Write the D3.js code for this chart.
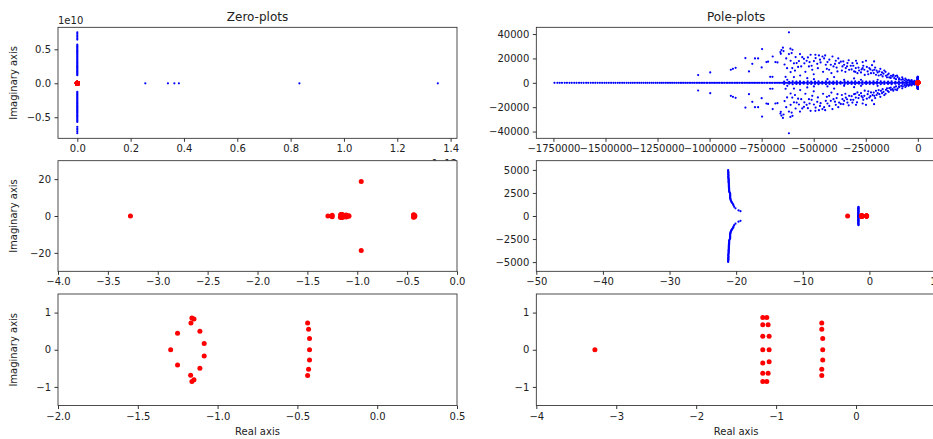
<!DOCTYPE html>
<html>
<head>
<meta charset="utf-8">
<script src="https://cdn.jsdelivr.net/npm/d3@7/dist/d3.min.js"></script>
<style>
  html, body { margin: 0; padding: 0; background: #fff; }
  svg { display: block; font-family: "DejaVu Sans", sans-serif; }
</style>
</head>
<body>
<script>
// ===================== DATA =====================
// Zeros (blue): imaginary parts (units of 1e10) of zeros lying on the real ~0 line
const zeroBlueImag1e10 = [
  0.750, 0.728, 0.706, 0.684, 0.662, 0.643, 0.568, 0.552, 0.537, 0.522, 0.506, 0.490,
  0.476, 0.461, 0.447, 0.431, 0.417, 0.401, 0.386, 0.371, 0.356, 0.342, 0.327, 0.311,
  0.297, 0.282, 0.266, 0.252, 0.237, 0.222, 0.207, 0.192, 0.178, 0.163, 0.148, 0.133, 0.119,
  -0.125, -0.140, -0.155, -0.170, -0.185, -0.199, -0.214, -0.229, -0.244, -0.259, -0.274,
  -0.289, -0.303, -0.318, -0.333, -0.348, -0.363, -0.378, -0.392, -0.407, -0.422, -0.437,
  -0.452, -0.467, -0.481, -0.496, -0.511, -0.526, -0.541, -0.556, -0.570, -0.640, -0.662,
  -0.684, -0.706, -0.735
];
// Zeros (blue) on the positive real axis (units of 1e12)
const zeroBlueReal1e12 = [0.255, 0.340, 0.364, 0.381, 0.833, 1.352];
// Other blue zeros [re, im]
const zeroBlueOther = [[-3.262, 0]];
// Zeros (red) [re, im]
const zeroRed = [
  [-3.274, 0], [-1.294, 0], [-1.251, 0.446], [-1.251, -0.411], [-1.167, 0.723],
  [-1.161, 0.857], [-1.148, 0.83], [-1.111, 0.5], [-1.084, 0.17], [-1.084, -0.17],
  [-1.111, -0.5], [-1.169, -0.688], [-1.161, -0.857], [-1.148, -0.804],
  [-0.436, 0.723], [-0.43, 0.554], [-0.424, 0.304], [-0.424, 0], [-0.424, -0.277],
  [-0.43, -0.527], [-0.436, -0.696], [-0.96, 18.65], [-0.96, -18.65]
];

// Poles (blue) on the negative real axis (units of 1e3)
const poleBlueRealK = [
  -1745, -1731, -1720, -1709, -1696, -1685, -1673, -1662, -1650, -1639, -1627, -1616,
  -1605, -1593, -1583, -1571, -1560, -1549, -1538, -1527, -1516, -1505, -1495, -1484,
  -1473, -1462, -1452, -1441, -1431, -1420, -1410, -1399, -1389, -1379, -1369, -1359,
  -1348, -1338, -1328, -1318, -1308, -1299, -1289, -1279, -1270, -1260, -1251, -1241,
  -1232, -1223, -1213, -1204, -1195, -1186, -1177, -1168, -1159, -1150, -1141, -1133,
  -1124, -1115, -1107, -1098, -1090, -1081, -1073, -1064, -1056, -1048,
  -1040, -1032, -1025, -1016, -1009, -1000, -993, -984, -977, -969, -960, -953, -944,
  -937, -929, -920, -913, -905, -897, -889, -880, -873, -865, -857, -848, -841, -833,
  -825, -816, -809, -801, -792, -785, -777, -768, -761, -752, -745, -737, -728, -721,
  -712, -705, -697, -688, -681, -672, -665, -657, -648, -641, -633, -625, -616, -609,
  -601, -592, -585, -576, -569, -561, -552, -545, -536, -529, -521, -512, -505, -496,
  -489, -481, -472, -465, -456, -449, -441, -432, -425, -416, -409, -401, -392, -385,
  -376, -369, -361, -352, -345, -336, -329, -321, -312, -305, -296, -289, -281, -272,
  -265, -256, -249, -241, -232, -225, -216, -209, -201, -192, -185, -176, -169, -161,
  -152, -145, -136, -129, -121, -112, -105, -96, -89, -81, -72, -65, -56, -49, -41,
  -32, -25, -16, -9, -3
];
// Poles (blue), complex, upper half plane [re, im] in units of 1e3 (plotted with conjugates)
const poleBlueCloudK = [
  [-1055, 6.3], [-997, 8.5], [-898, 10.7], [-888, 11.5], [-875, 12.3], [-828, 20.3],
  [-811, 9.3], [-795, 15.6], [-782, 20.0], [-767, 20.0], [-748, 27.7], [-750, 12.6],
  [-727, 17.0], [-719, 17.3], [-709, 4.9], [-698, 4.9], [-697, 21.6], [-684, 17.0],
  [-674, 16.7], [-660, 25.2], [-655, 26.9], [-648, 28.8], [-658, 23.8], [-635, 4.9],
  [-619, 23.6], [-611, 18.1], [-606, 24.4], [-602, 27.1], [-619, 41.4], [-611, 8.8],
  [-603, 12.1], [-587, 21.1], [-582, 16.2], [-571, 17.8], [-566, 23.6], [-560, 13.4],
  [-547, 19.7], [-534, 18.1], [-528, 20.8], [-523, 13.4], [-515, 23.0], [-507, 10.7],
  [-499, 17.8], [-491, 20.3], [-483, 15.6], [-475, 22.5], [-467, 16.7], [-458, 21.6],
  [-450, 20.0], [-442, 14.8], [-434, 17.0], [-426, 10.7], [-418, 14.8], [-410, 21.6],
  [-405, 13.4], [-394, 18.1], [-386, 9.3], [-378, 16.2], [-370, 17.3], [-362, 13.4],
  [-354, 14.8], [-346, 12.1], [-338, 16.2], [-330, 10.7], [-322, 14.0], [-314, 16.2],
  [-306, 9.3], [-298, 12.1], [-290, 7.9], [-282, 10.1], [-273, 8.5], [-265, 12.1],
  [-257, 10.7], [-249, 18.1], [-241, 9.3], [-233, 12.1], [-225, 7.9], [-217, 10.1],
  [-209, 10.7], [-201, 6.6], [-193, 8.5], [-185, 9.3], [-177, 6.6], [-169, 5.2],
  [-161, 10.1], [-153, 5.8], [-145, 6.6], [-137, 4.4], [-129, 5.8], [-121, 5.2],
  [-113, 3.8], [-105, 3.0], [-97, 4.7], [-89, 3.6], [-80, 2.5], [-72, 3.0], [-64, 1.9],
  [-56, 2.5], [-48, 1.6], [-40, 1.9], [-32, 1.4], [-24, 1.1],
  [-627, 2.5], [-595, 4.7], [-531, 3.8], [-499, 3.0], [-434, 3.0], [-402, 4.7],
  [-354, 2.5], [-306, 3.6], [-273, 2.5], [-193, 2.5],
  [-480, 12], [-470, 19], [-455, 9], [-445, 22.5], [-437, 11.5], [-425, 19], [-415, 8],
  [-398, 15.5], [-390, 12.5], [-382, 20], [-365, 10], [-358, 17.5], [-348, 9],
  [-340, 13.5], [-332, 18.5], [-318, 11], [-310, 14], [-300, 9], [-292, 16],
  [-285, 12.5], [-270, 11], [-262, 14], [-255, 6.5], [-245, 13], [-238, 7], [-228, 11],
  [-220, 14.5], [-212, 8], [-205, 12.5], [-198, 10], [-188, 6], [-180, 11.5],
  [-172, 8.5], [-165, 7.5], [-155, 9], [-148, 4.5], [-140, 7.5], [-130, 4], [-118, 6.5],
  [-108, 5.5], [-100, 6], [-90, 3], [-75, 4.5], [-60, 3.5], [-45, 2.5], [-30, 2.2],
  [-15, 1.5], [-640, 15], [-628, 12], [-612, 28], [-595, 16], [-590, 10], [-575, 13],
  [-565, 6], [-555, 21], [-545, 16], [-540, 9], [-520, 17], [-510, 14], [-500, 7],
  [-492, 23], [-632, 20], [-645, 26], [-297, 18.1], [-265, 17], [-210, 17.5],
  [-642, 1.0], [-618, 0.8], [-601, 1.2], [-583, 0.9], [-566, 1.1], [-548, 0.8],
  [-529, 1.2], [-512, 1.0], [-494, 0.9], [-477, 1.1], [-459, 0.8], [-441, 1.2],
  [-424, 1.0], [-406, 0.9], [-389, 1.1], [-371, 0.8], [-352, 1.2], [-336, 1.0],
  [-318, 0.9], [-301, 1.1], [-283, 0.8], [-266, 1.2], [-248, 1.0], [-231, 0.9],
  [-213, 1.1], [-196, 0.8], [-178, 1.2], [-161, 1.0], [-143, 0.9], [-126, 1.1],
  [-108, 0.8], [-91, 1.2], [-73, 1.0], [-56, 0.9], [-38, 1.1], [-21, 0.8]
];
// Poles (blue) near the origin, upper half plane [re, im] (plotted with conjugates)
const poleBlueNear = [
  [-21.2, 4980], [-21.2, 4900], [-21.2, 4820], [-21.15, 4740], [-21.2, 4660], [-21.15, 4580],
  [-21.2, 4500], [-21.15, 4420], [-21.15, 4340], [-21.2, 4260], [-21.15, 4180], [-21.15, 4100],
  [-21.15, 4020], [-21.1, 3940], [-21.15, 3860], [-21.1, 3780], [-21.15, 3700], [-21.1, 3620],
  [-21.1, 3540], [-21.1, 3460], [-21.1, 3380], [-21.1, 3300], [-21.1, 3220], [-21.05, 3140],
  [-21.1, 3060], [-21.05, 2980], [-21.05, 2900], [-21.05, 2820], [-21.05, 2740], [-21.05, 2660],
  [-21.0, 2580], [-20.95, 2500], [-20.9, 2420], [-20.9, 2340], [-20.9, 2260], [-20.9, 2180],
  [-20.9, 2100], [-20.9, 2020], [-20.9, 1940], [-20.85, 1860], [-20.85, 1780], [-20.8, 1700],
  [-20.75, 1620], [-20.7, 1540], [-20.65, 1460], [-20.55, 1370], [-20.45, 1270], [-20.4, 1160],
  [-20.3, 1000], [-20.1, 830], [-19.65, 620], [-19.35, 520],
  [-1.7, 60], [-1.6, 130], [-1.7, 210], [-1.6, 290], [-1.7, 370], [-1.6, 450], [-1.7, 530],
  [-1.6, 610], [-1.7, 690], [-1.6, 770], [-1.7, 850], [-1.6, 930], [-1.65, 1000]
];
// Poles (red) [re, im]
const poleRed = [
  [-3.267, 0], [-1.167, 0.866], [-1.117, 0.866], [-1.167, 0.67], [-1.1, 0.67],
  [-1.167, 0.366], [-1.0875, 0.366], [-1.167, 0], [-1.0875, 0], [-1.167, -0.357],
  [-1.0875, -0.32], [-1.167, -0.634], [-1.1, -0.634], [-1.167, -0.857], [-1.117, -0.857],
  [-0.429, 0.723], [-0.429, 0.554], [-0.417, 0.304], [-0.417, 0], [-0.417, -0.277],
  [-0.429, -0.527], [-0.429, -0.696]
];

// Ticks
const zTopXTicks = [0, 0.2e12, 0.4e12, 0.6e12, 0.8e12, 1.0e12, 1.2e12, 1.4e12];
const zTopXLabels = ["0.0", "0.2", "0.4", "0.6", "0.8", "1.0", "1.2", "1.4"];
const zTopYTicks = [-0.5e10, 0, 0.5e10];
const zTopYLabels = ["\u22120.5", "0.0", "0.5"];
const zMidXTicks = [-4, -3.5, -3, -2.5, -2, -1.5, -1, -0.5, 0];
const zMidXLabels = ["\u22124.0", "\u22123.5", "\u22123.0", "\u22122.5", "\u22122.0", "\u22121.5", "\u22121.0", "\u22120.5", "0.0"];
const zMidYTicks = [-20, 0, 20];
const zMidYLabels = ["\u221220", "0", "20"];
const zBotXTicks = [-2, -1.5, -1, -0.5, 0, 0.5];
const zBotXLabels = ["\u22122.0", "\u22121.5", "\u22121.0", "\u22120.5", "0.0", "0.5"];
const unitYTicks = [-1, 0, 1];
const unitYLabels = ["\u22121", "0", "1"];
const pTopXTicks = [-1750000, -1500000, -1250000, -1000000, -750000, -500000, -250000, 0];
const pTopXLabels = ["\u22121750000", "\u22121500000", "\u22121250000", "\u22121000000", "\u2212750000", "\u2212500000", "\u2212250000", "0"];
const pTopYTicks = [-40000, -20000, 0, 20000, 40000];
const pTopYLabels = ["\u221240000", "\u221220000", "0", "20000", "40000"];
const pMidXTicks = [-50, -40, -30, -20, -10, 0, 10];
const pMidXLabels = ["\u221250", "\u221240", "\u221230", "\u221220", "\u221210", "0", "10"];
const pMidYTicks = [-5000, -2500, 0, 2500, 5000];
const pMidYLabels = ["\u22125000", "\u22122500", "0", "2500", "5000"];
const pBotXTicks = [-4, -3, -2, -1, 0, 1];
const pBotXLabels = ["\u22124", "\u22123", "\u22122", "\u22121", "0", "1"];

// ===================== BUILD =====================
const zerosBlue = [
  ...zeroBlueImag1e10.map(v => [0, v * 1e10]),
  ...zeroBlueReal1e12.map(v => [v * 1e12, 0]),
  ...zeroBlueOther
];
const conj = ([r, i]) => [[r, i], [r, -i]];
const polesBlue = [
  ...poleBlueRealK.map(v => [v * 1e3, 0]),
  ...poleBlueCloudK.flatMap(([r, i]) => conj([r * 1e3, i * 1e3])),
  ...poleBlueNear.flatMap(conj)
];

const W = 933, H = 439;
const svg = d3.select("body").append("svg").attr("width", W).attr("height", H);
svg.append("rect").attr("width", W).attr("height", H).attr("fill", "#fff");

const cols = [{ x0: 58, x1: 457 }, { x0: 536.3, x1: 936 }];
const rows = [{ y0: 27.3, y1: 138.3 }, { y0: 160.7, y1: 271.3 }, { y0: 294, y1: 405.5 }];

const panels = [
  { c: 0, r: 0, xd: [-0.0724e12, 1.424e12], yd: [-0.81e10, 0.824e10], xt: zTopXTicks, xl: zTopXLabels, yt: zTopYTicks, yl: zTopYLabels, blue: zerosBlue, red: zeroRed },
  { c: 1, r: 0, xd: [-1832250, 87250], yd: [-45540, 45540], xt: pTopXTicks, xl: pTopXLabels, yt: pTopYTicks, yl: pTopYLabels, blue: polesBlue, red: poleRed },
  { c: 0, r: 1, xd: [-4, 0], yd: [-30, 30], xt: zMidXTicks, xl: zMidXLabels, yt: zMidYTicks, yl: zMidYLabels, blue: zerosBlue, red: zeroRed },
  { c: 1, r: 1, xd: [-50, 10], yd: [-6000, 6000], xt: pMidXTicks, xl: pMidXLabels, yt: pMidYTicks, yl: pMidYLabels, blue: polesBlue, red: poleRed },
  { c: 0, r: 2, xd: [-2, 0.5], yd: [-1.5, 1.5], xt: zBotXTicks, xl: zBotXLabels, yt: unitYTicks, yl: unitYLabels, blue: zerosBlue, red: zeroRed },
  { c: 1, r: 2, xd: [-4, 1], yd: [-1.5, 1.5], xt: pBotXTicks, xl: pBotXLabels, yt: unitYTicks, yl: unitYLabels, blue: polesBlue, red: poleRed }
];

function drawPanel(p, idx) {
  const { x0, x1 } = cols[p.c];
  const { y0, y1 } = rows[p.r];
  const x = d3.scaleLinear().domain(p.xd).range([x0, x1]);
  const y = d3.scaleLinear().domain(p.yd).range([y1, y0]);
  const g = svg.append("g");
  g.append("rect").attr("x", x0).attr("y", y0).attr("width", x1 - x0).attr("height", y1 - y0).attr("fill", "#fff");
  const cid = "clip" + idx;
  g.append("clipPath").attr("id", cid).append("rect")
    .attr("x", x0).attr("y", y0).attr("width", x1 - x0).attr("height", y1 - y0);
  const pts = g.append("g").attr("clip-path", `url(#${cid})`);
  pts.selectAll("circle.b").data(p.blue).join("circle").attr("class", "b")
    .attr("cx", d => x(d[0])).attr("cy", d => y(d[1])).attr("r", 1.1).attr("fill", "#0000ff");
  pts.selectAll("circle.r").data(p.red).join("circle").attr("class", "r")
    .attr("cx", d => x(d[0])).attr("cy", d => y(d[1])).attr("r", 2.5).attr("fill", "#ff0000");

  const ax = g.append("g").attr("transform", `translate(0,${y1})`)
    .call(d3.axisBottom(x).tickValues(p.xt).tickFormat((d, i) => p.xl[i]).tickSize(3.5).tickPadding(3.5));
  const ay = g.append("g").attr("transform", `translate(${x0},0)`)
    .call(d3.axisLeft(y).tickValues(p.yt).tickFormat((d, i) => p.yl[i]).tickSize(3.5).tickPadding(3.5));
  [ax, ay].forEach(a => {
    a.select(".domain").remove();
    a.selectAll("line").attr("stroke", "#000").attr("stroke-width", 0.8);
    a.selectAll("text").attr("fill", "#222").style("font-size", "10px").style("font-family", "DejaVu Sans");
  });
  g.append("rect").attr("x", x0).attr("y", y0).attr("width", x1 - x0).attr("height", y1 - y0)
    .attr("fill", "none").attr("stroke", "#222").attr("stroke-width", 0.8);
  if (p.c === 0) {
    g.append("text").attr("transform", `translate(17,${(y0 + y1) / 2}) rotate(-90)`)
      .attr("text-anchor", "middle").style("font-size", "10px").attr("fill", "#222")
      .text("Imaginary axis");
  }
  if (p.r === 2) {
    g.append("text").attr("x", (x0 + x1) / 2).attr("y", 434.5).attr("text-anchor", "middle")
      .style("font-size", "10px").attr("fill", "#222").text("Real axis");
  }
}

// top row first, then the hidden offset text, then other rows (which cover it)
drawPanel(panels[0], 0);
drawPanel(panels[1], 1);
svg.append("text").attr("x", 58).attr("y", 23.5).style("font-size", "10px").attr("fill", "#222").text("1e10");
svg.append("text").attr("x", 457).attr("y", 167).attr("text-anchor", "end").style("font-size", "10px").attr("fill", "#222").text("1e12");
svg.append("text").attr("x", (cols[0].x0 + cols[0].x1) / 2).attr("y", 21).attr("text-anchor", "middle")
  .style("font-size", "12px").attr("fill", "#222").text("Zero-plots");
svg.append("text").attr("x", (cols[1].x0 + cols[1].x1) / 2).attr("y", 21).attr("text-anchor", "middle")
  .style("font-size", "12px").attr("fill", "#222").text("Pole-plots");
for (let i = 2; i < panels.length; i++) drawPanel(panels[i], i);
</script>
</body>
</html>
